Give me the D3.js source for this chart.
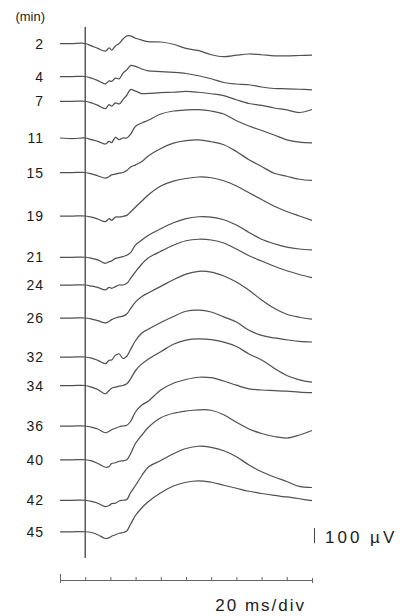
<!DOCTYPE html>
<html>
<head>
<meta charset="utf-8">
<script src="https://cdn.jsdelivr.net/npm/d3@7"></script>
<style>
  html, body { margin: 0; padding: 0; background: #fff; }
  svg { display: block; font-family: "Liberation Sans", Arial, sans-serif; }
  .trace { fill: none; stroke: #505050; stroke-width: 1.25; stroke-linejoin: round; }
  .label { fill: #1a1a1a; font-size: 14px; }
</style>
</head>
<body>
<svg width="403" height="616"></svg>
<script>
// sample times (ms) shared by every trace
const times = [-20, -10, 0, 5, 10, 16, 19, 21, 24, 27, 30, 33, 36, 40, 45, 50, 60, 70, 80, 90, 100, 110, 120, 130, 140, 150, 160, 170, 180];

// minutes after onset, one trace each
const minutes = ["2", "4", "7", "11", "15", "19", "21", "24", "26", "32", "34", "36", "40", "42", "45"];

// display offset of each trace (µV below the first one)
const offsets = [0, 220, 385, 630, 860, 1150, 1425, 1610, 1830, 2090, 2280, 2550, 2775, 3045, 3255];

// amplitudes (µV)
const t2  = [0, 0, 0, -16, -33, -51, -29, -44, -16, 0, 30, 51, 51, 35, 22, 12, 10, -5, -33, -48, -75, -88, -78, -70, -75, -82, -82, -80, -78];
const t4  = [0, 0, 0, -11, -27, -49, -29, -33, -11, -16, 22, 44, 73, 67, 50, 38, 33, 28, 20, 5, -15, -40, -50, -55, -70, -80, -82, -85, -89];
const t7  = [0, 0, 0, -11, -27, -49, -22, -33, -11, -18, 11, 40, 78, 67, 51, 52, 58, 60, 66, 60, 50, 38, 10, -15, -28, -45, -58, -75, -55];
const t11 = [0, -4, 0, -11, -22, -40, -22, -31, 4, -11, 0, 0, 25, 78, 100, 118, 160, 180, 187, 189, 180, 160, 115, 80, 50, 20, -12, -28, -33];
const t15 = [0, 0, 0, -9, -22, -38, -27, -16, -11, -4, 0, 13, 36, 51, 73, 110, 160, 196, 213, 218, 205, 185, 140, 85, 40, -5, -25, -45, -53];
const t19 = [0, 0, 0, -7, -20, -38, -18, -29, -7, -7, -2, 4, 27, 60, 100, 140, 200, 232, 250, 260, 255, 235, 200, 155, 110, 65, 30, 0, -29];
const t21 = [0, 0, 0, -7, -18, -40, -29, -24, -7, -2, 4, 13, 31, 82, 115, 145, 190, 230, 258, 270, 268, 250, 215, 165, 120, 90, 68, 55, 49];
const t24 = [0, 0, 0, -7, -16, -33, -16, -22, -11, 0, 0, 11, 44, 89, 140, 180, 225, 265, 295, 305, 300, 280, 240, 195, 160, 125, 95, 70, 49];
const t26 = [0, 0, 0, -7, -18, -33, -22, -11, 0, 7, 13, 27, 62, 107, 144, 167, 211, 255, 293, 311, 306, 280, 240, 185, 120, 65, 25, 5, -8];
const t32 = [0, 0, 0, -7, -22, -44, -22, -20, 11, 20, -10, 5, 50, 110, 160, 185, 230, 270, 305, 313, 300, 267, 233, 178, 144, 127, 115, 104, 100];
const t34 = [0, 0, 0, -11, -27, -55, -33, -18, -11, -4, 0, 11, 44, 100, 144, 175, 225, 275, 303, 311, 306, 289, 260, 210, 170, 115, 67, 38, 22];
const t36 = [0, 0, 0, -7, -20, -45, -35, -25, -15, -5, 0, 5, 30, 95, 140, 165, 240, 285, 310, 325, 322, 300, 272, 248, 240, 236, 232, 226, 222];
const t40 = [0, 0, 0, -7, -25, -50, -45, -25, -20, -10, -7, 0, 40, 110, 165, 215, 280, 310, 325, 333, 330, 300, 250, 205, 175, 155, 145, 165, 195];
const t42 = [0, 0, 0, -7, -20, -42, -35, -22, -20, -5, 0, 5, 50, 100, 165, 220, 265, 310, 345, 360, 352, 330, 290, 235, 190, 155, 125, 92, 85];
const t45 = [0, 0, 0, -5, -20, -45, -40, -30, -20, -10, -5, 5, 50, 110, 160, 200, 260, 305, 330, 340, 330, 310, 290, 270, 255, 242, 232, 220, 207];

const traces = [t2, t4, t7, t11, t15, t19, t21, t24, t26, t32, t34, t36, t40, t42, t45];

const svg = d3.select("svg");

const x = d3.scaleLinear().domain([-20, 180]).range([60, 312]);
// 100 µV = 15 px, first baseline at y = 43.5
const y = d3.scaleLinear().domain([0, -100]).range([43.5, 58.5]);

const line = d3.line()
  .x(d => x(d[0]))
  .y(d => y(d[1]))
  .curve(d3.curveCatmullRom.alpha(0.5));

// stimulus marker
svg.append("line")
  .attr("x1", x(0)).attr("x2", x(0))
  .attr("y1", 27).attr("y2", 558)
  .attr("stroke", "#333").attr("stroke-width", 1.2);

svg.append("g")
  .selectAll("path")
  .data(traces)
  .enter().append("path")
  .attr("class", "trace")
  .attr("d", (vals, i) => line(vals.map((v, j) => [times[j], v - offsets[i]])));

svg.append("g")
  .selectAll("text")
  .data(minutes)
  .enter().append("text")
  .attr("class", "label")
  .attr("x", 44)
  .attr("y", (d, i) => y(-offsets[i]))
  .attr("dy", "0.36em")
  .attr("text-anchor", "end")
  .attr("letter-spacing", "1px")
  .text(d => d);

svg.append("text")
  .attr("x", 45).attr("y", 21)
  .attr("text-anchor", "end")
  .attr("fill", "#222")
  .attr("font-size", 13)
  .text("(min)");

// amplitude scale bar
const barBase = y(-offsets[offsets.length - 1]) + 11.5;
svg.append("line")
  .attr("x1", 314.5).attr("x2", 314.5)
  .attr("y1", barBase).attr("y2", barBase - (y(-100) - y(0)))
  .attr("stroke", "#444").attr("stroke-width", 1);

svg.append("text")
  .attr("x", 325).attr("y", barBase)
  .attr("fill", "#222")
  .attr("font-size", 17)
  .attr("letter-spacing", "3px")
  .text("100 µV");

// time axis, one tick per 20 ms
const axis = svg.append("g")
  .attr("transform", "translate(0,580)")
  .call(d3.axisTop(x).tickValues(d3.range(-20, 181, 20)).tickSize(3).tickSizeOuter(0).tickFormat(""));
axis.select(".domain").attr("stroke", "#666");
axis.selectAll(".tick line").attr("stroke", "#666");
axis.selectAll(".tick line")
  .filter(d => d === -20)
  .attr("y1", 3).attr("y2", -6);
axis.selectAll(".tick line")
  .filter(d => d === 180)
  .attr("y1", 3).attr("y2", -2);

svg.append("text")
  .attr("x", 306).attr("y", 611)
  .attr("text-anchor", "end")
  .attr("fill", "#222")
  .attr("font-size", 17)
  .attr("letter-spacing", "2px")
  .text("20 ms/div");
</script>
</body>
</html>
